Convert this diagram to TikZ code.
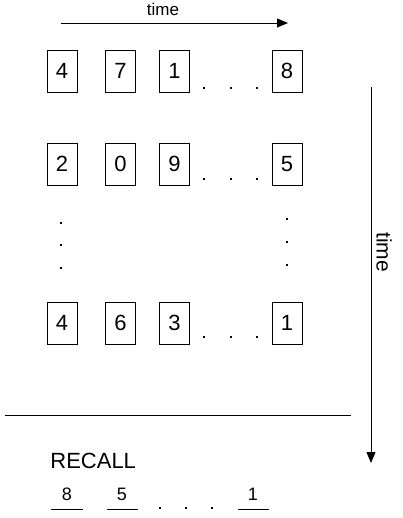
\documentclass[tikz,border=0pt]{standalone}
\usepackage{fontspec}
\setmainfont{Liberation Sans}
\usetikzlibrary{arrows.meta}

\begin{document}
\begin{tikzpicture}[x=1pt,y=-1pt,line width=0.8pt,
  item/.style={draw,minimum width=30pt,minimum height=42pt,inner sep=0pt,
    font=\fontsize{22}{24}\selectfont},
  pt/.style={fill,inner sep=0pt,minimum size=2.8pt},
  timearrow/.style={-{Triangle[length=11pt,width=9pt]}}]
\useasboundingbox (0,0) rectangle (402,518);
% time runs along a row
\coordinate (h0) at (61,23);
\coordinate (h1) at (288,23);
\draw[timearrow] (h0) -- (h1);
\node[font=\fontsize{17}{19}\selectfont] (htime) at (163,9) {time};
% first list
\node[item] (a1) at (62,71) {4};
\node[item] (a2) at (120.5,71) {7};
\node[item] (a3) at (174.5,71) {1};
\node[item] (an) at (287,71) {8};
\node[pt] (ad1) at (204,88) {};
\node[pt] (ad2) at (231,88) {};
\node[pt] (ad3) at (257,88) {};
% second list
\node[item] (b1) at (62,164) {2};
\node[item] (b2) at (120.5,164) {0};
\node[item] (b3) at (174.5,164) {9};
\node[item] (bn) at (287,164) {5};
\node[pt] (bd1) at (204,179) {};
\node[pt] (bd2) at (231,179) {};
\node[pt] (bd3) at (257,179) {};
% more lists
\node[pt] (l1) at (61,223) {};
\node[pt] (l2) at (61,245) {};
\node[pt] (l3) at (61,268) {};
\node[pt] (r1) at (287,219) {};
\node[pt] (r2) at (287,242) {};
\node[pt] (r3) at (287,265) {};
% last list
\node[item] (c1) at (62,323) {4};
\node[item] (c2) at (120.5,323) {6};
\node[item] (c3) at (174.5,323) {3};
\node[item] (cn) at (287,323) {1};
\node[pt] (cd1) at (204,337) {};
\node[pt] (cd2) at (231,337) {};
\node[pt] (cd3) at (257,337) {};
% time runs down the lists
\coordinate (v0) at (371,87);
\coordinate (v1) at (371,463);
\draw[timearrow] (v0) -- (v1);
\node[font=\fontsize{21}{23}\selectfont,rotate=-90] (vtime) at (384,252) {time};
% recall part
\draw (5,415) -- (351,415);
\node[anchor=west,inner sep=0pt,font=\fontsize{22}{24}\selectfont] (recall) at (50,461) {RECALL};
\node[font=\fontsize{18}{20}\selectfont] (ra) at (67,494) {8};
\node[font=\fontsize{18}{20}\selectfont] (rb) at (122,494) {5};
\node[font=\fontsize{18}{20}\selectfont] (rn) at (253,494) {1};
\draw (51,509) -- (83,509);
\draw (107,509) -- (138,509);
\draw (238,509) -- (269,509);
\node[pt] (rd1) at (160,508) {};
\node[pt] (rd2) at (186,508) {};
\node[pt] (rd3) at (212,508) {};
\end{tikzpicture}
\end{document}
